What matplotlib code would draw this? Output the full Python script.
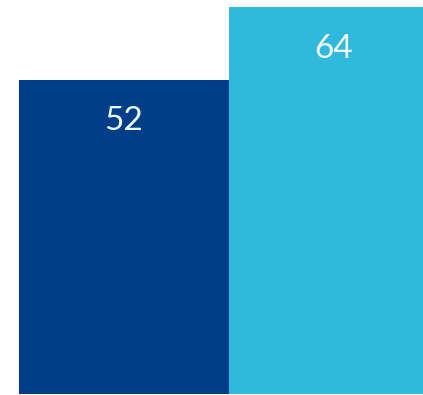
import matplotlib
matplotlib.use("Agg")
import matplotlib.pyplot as plt

categories = ["A", "B"]
values = [52, 64]
colors = ["#003f87", "#30b9dc"]

fig = plt.figure(figsize=(4.23, 3.95), dpi=100)
ax = fig.add_axes([0, 0, 1, 1])

x = list(range(len(categories)))
bars = ax.bar(x, values, width=1.0, color=colors, edgecolor="none")

# labels sit a fixed distance below each bar top
for xi, v in zip(x, values):
    ax.annotate(str(v), xy=(xi, v), xytext=(0, -30), textcoords="offset points",
                ha="center", va="center", color="#eef8fc",
                fontsize=24, family=["Lato", "DejaVu Sans"])

px_per_unit_x = 210.0
left = -0.5 - 19 / px_per_unit_x
ax.set_xlim(left, left + 423 / px_per_unit_x)
px_per_unit_y = 387 / 64
ax.set_ylim(-1 / px_per_unit_y, 64 + 7 / px_per_unit_y)
ax.axis("off")

fig.savefig("out.png", dpi=100)
